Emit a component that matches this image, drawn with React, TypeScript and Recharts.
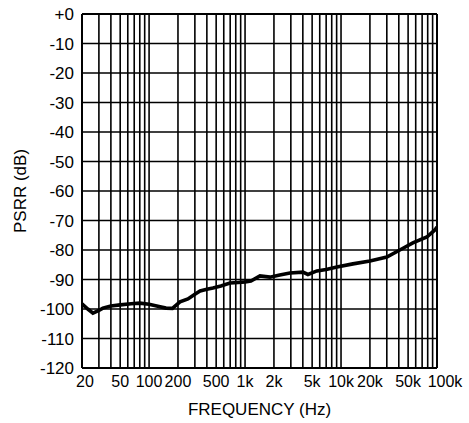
import React from 'react';
import { LineChart, Line, XAxis, YAxis, ReferenceLine } from 'recharts';

const freq = [20, 23, 26, 30, 33, 40, 50, 65, 80, 100, 120, 150, 175, 210, 254, 300, 340, 400, 463, 560, 696, 850, 1000, 1150, 1430, 1817, 2300, 2936, 4010, 4520, 5610, 7000, 9060, 13300, 20000, 30000, 41000, 56000, 78500, 95000, 100000];
const psrr = [-98.3, -100, -101.4, -100.5, -99.7, -99, -98.6, -98.2, -98, -98.4, -99, -99.7, -99.8, -97.6, -96.6, -95, -93.9, -93.3, -92.9, -92.2, -91.2, -91, -90.8, -90.5, -88.8, -89.2, -88.5, -87.8, -87.5, -88.3, -87.1, -86.6, -85.8, -84.7, -83.7, -82.4, -80, -77.6, -75.6, -73.2, -72.2];

const xTicks = [20, 50, 100, 200, 500, 1000, 2000, 5000, 10000, 20000, 50000, 100000];
const xTickLabels = ['20', '50', '100', '200', '500', '1k', '2k', '5k', '10k', '20k', '50k', '100k'];
const yTicks = [0, -10, -20, -30, -40, -50, -60, -70, -80, -90, -100, -110, -120];
const yTickLabels = ['+0', '-10', '-20', '-30', '-40', '-50', '-60', '-70', '-80', '-90', '-100', '-110', '-120'];
const gridFreqs = [30, 40, 50, 60, 70, 80, 90, 100, 200, 300, 400, 500, 600, 700, 800, 900, 1000, 2000, 3000, 4000, 5000, 6000, 7000, 8000, 9000, 10000, 20000, 30000, 40000, 50000, 60000, 70000, 80000, 90000];
const gridDb = [-10, -20, -30, -40, -50, -60, -70, -80, -90, -100, -110];

const data = freq.map((f, i) => ({ f, v: psrr[i] }));
const FONT = '"Liberation Sans", Arial, Helvetica, sans-serif';

const XTick = (props: any) => {
  const { x, y, payload } = props;
  const idx = xTicks.indexOf(payload.value);
  const label = idx >= 0 ? xTickLabels[idx] : String(payload.value);
  let dx = 0;
  if (payload.value === 20) dx = 3;
  if (payload.value === 100000) dx = 8;
  return (
    <text x={x + dx} y={y} dy="0.71em" textAnchor="middle" fill="#000" fontSize={16} fontFamily={FONT}>
      {label}
    </text>
  );
};

const YLabel = (props: any) => {
  const vb = props.viewBox;
  const cx = vb.x + 20;
  const cy = vb.y + vb.height / 2;
  return (
    <text x={cx} y={cy} transform={`rotate(-90, ${cx}, ${cy})`} textAnchor="middle" dominantBaseline="central" fill="#000" fontSize={17} fontFamily={FONT}>
      PSRR (dB)
    </text>
  );
};

export default function App() {
  return (
    <div style={{ position: 'absolute', left: 0, top: 0, background: '#fff' }}>
      <LineChart width={469} height={423} data={data} margin={{ top: 14, right: 32, left: 0, bottom: 0 }}>
        <XAxis
          dataKey="f"
          type="number"
          scale="log"
          domain={[20, 100000]}
          ticks={xTicks}
          interval={0}
          allowDataOverflow
          height={55}
          axisLine={false}
          tickLine={false}
          tick={<XTick />}
          label={{ value: 'FREQUENCY (Hz)', position: 'insideBottom', offset: 8, fill: '#000', fontSize: 17, fontFamily: FONT }}
        />
        <YAxis
          type="number"
          domain={[-120, 0]}
          ticks={yTicks}
          width={82}
          axisLine={false}
          tickLine={false}
          interval={0}
          tickFormatter={(v: number) => yTickLabels[yTicks.indexOf(v)]}
          tick={{ fill: '#000', fontSize: 17, fontFamily: FONT }}
          label={<YLabel />}
        />
        {gridFreqs.map((g) => (
          <ReferenceLine key={'gx' + g} x={g} stroke="#000" strokeWidth={1.6} />
        ))}
        {gridDb.map((g) => (
          <ReferenceLine key={'gy' + g} y={g} stroke="#000" strokeWidth={1.6} />
        ))}
        <ReferenceLine x={20} stroke="#000" strokeWidth={2} />
        <ReferenceLine x={100000} stroke="#000" strokeWidth={2} />
        <ReferenceLine y={0} stroke="#000" strokeWidth={2} />
        <ReferenceLine y={-120} stroke="#000" strokeWidth={2} />
        <Line type="linear" dataKey="v" stroke="#000" strokeWidth={3.6} dot={false} isAnimationActive={false} />
      </LineChart>
    </div>
  );
}
